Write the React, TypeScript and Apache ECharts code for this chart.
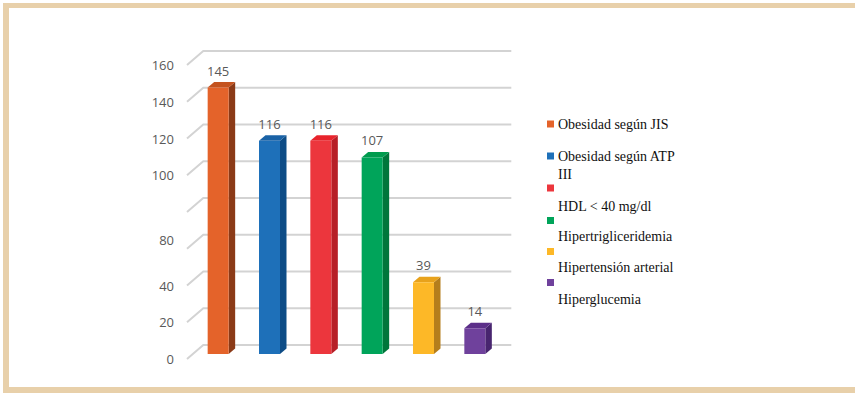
import React, { useEffect, useRef } from "react";
import * as echarts from "echarts";

// Categories and counts
const categories = [
  "Obesidad según JIS",
  "Obesidad según ATP III",
  "HDL < 40 mg/dl",
  "Hipertrigliceridemia",
  "Hipertensión arterial",
  "Hiperglucemia",
];
const counts = [145, 116, 116, 107, 39, 14];

// Face colours for the 3D columns
const frontColors = ["#E4632A", "#1E70B9", "#EC363D", "#00A45A", "#FDB827", "#6F419C"];
const sideColors = ["#8B3A17", "#0D4C86", "#B71F27", "#00763B", "#B57E1C", "#48256F"];
const topColors = ["#C4531F", "#1A62A6", "#E8242C", "#009B4E", "#E8A21B", "#5C2F89"];

// Value axis ticks and the labels printed beside them
const yTicks = [0, 20, 40, 60, 80, 100, 120, 140, 160];
const yTickLabels = ["0", "20", "40", "80", "", "100", "120", "140", "160"];

// Perspective offsets
const WALL_DX = 16.3;
const WALL_DY = 14;
const BAR_OFF_X = 5.5;
const BAR_OFF_Y = 5;
const BAR_HALF = 10.5;
const BAR_DX = 6.5;
const BAR_DY = 5.5;

const GREY_TEXT = "#595959";
const SANS = "'Open Sans', 'Liberation Sans', sans-serif";
const SERIF = "'Liberation Serif', 'Times New Roman', serif";
const FRAME = "#E8D0AA";

// Legend layout: marker centre y, text centre y (first line)
const legendMarkerY = [124, 156, 188, 220.5, 251.5, 282.5];
const legendTextY = [124, 156, 206, 236, 267, 299];

export default function App() {
  const ref = useRef<HTMLDivElement>(null);

  useEffect(() => {
    if (!ref.current) return;
    const chart = echarts.init(ref.current, null, { renderer: "svg" });

    const legendItems: any[] = [];
    categories.forEach((name, i) => {
      legendItems.push({
        type: "rect",
        shape: { x: 547, y: legendMarkerY[i] - 3.5, width: 7, height: 7 },
        style: { fill: frontColors[i] },
      });
      // the long ATP entry wraps its last word onto a second line
      const text = name.replace(" III", "\nIII");
      legendItems.push({
        type: "text",
        style: {
          text,
          x: 558,
          y: legendTextY[i] - 9,
          lineHeight: 18,
          verticalAlign: "top",
          align: "left",
          fill: "#111",
          fontSize: 14,
          fontFamily: SERIF,
        },
      });
    });

    const option: any = {
      animation: false,
      backgroundColor: "#fff",
      grid: { left: 187, right: 360, top: 65, bottom: 34 },
      xAxis: {
        type: "category",
        data: categories,
        show: false,
        boundaryGap: true,
      },
      yAxis: {
        type: "value",
        min: 0,
        max: 160,
        interval: 20,
        axisLine: { show: false },
        axisTick: { show: false },
        splitLine: { show: false },
        axisLabel: {
          margin: 13,
          color: GREY_TEXT,
          fontSize: 13,
          fontFamily: SANS,
          formatter: (v: number) => {
            const idx = yTicks.indexOf(v);
            const t = idx >= 0 ? yTickLabels[idx] : "";
            return v === 60 && t ? `{up|${t}}` : t;
          },
          rich: {
            up: {
              color: GREY_TEXT,
              fontSize: 13,
              fontFamily: SANS,
              padding: [0, 0, 18, 0],
            },
          },
        },
      },
      graphic: [
        { type: "rect", shape: { x: 3, y: 3, width: 852, height: 5 }, style: { fill: FRAME }, silent: true },
        { type: "rect", shape: { x: 3, y: 3, width: 6, height: 390 }, style: { fill: FRAME }, silent: true },
        { type: "rect", shape: { x: 3, y: 387, width: 852, height: 6 }, style: { fill: FRAME }, silent: true },
        ...legendItems,
      ],
      series: [
        {
          type: "custom",
          name: "walls",
          z: 1,
          silent: true,
          data: yTicks.map((v) => [0, v]),
          renderItem: (params: any, api: any) => {
            const y = api.coord([0, api.value(1)])[1];
            const cs = params.coordSys;
            return {
              type: "polyline",
              shape: {
                points: [
                  [cs.x, y],
                  [cs.x + WALL_DX, y - WALL_DY],
                  [cs.x + cs.width + WALL_DX, y - WALL_DY],
                ],
              },
              style: { stroke: "#D3D3D3", lineWidth: 2, fill: "none" },
            };
          },
        },
        {
          type: "custom",
          name: "columns",
          z: 2,
          data: counts.map((v, i) => [i, v]),
          renderItem: (params: any, api: any) => {
            const i = api.value(0);
            const v = api.value(1);
            const base = api.coord([i, 0]);
            const top = api.coord([i, v]);
            const cx = base[0] + BAR_OFF_X;
            const left = cx - BAR_HALF;
            const right = cx + BAR_HALF;
            const bottom = base[1] - BAR_OFF_Y;
            const ty = top[1] - BAR_OFF_Y;
            const idx = params.dataIndex;
            return {
              type: "group",
              children: [
                {
                  type: "polygon",
                  shape: {
                    points: [
                      [right, ty],
                      [right + BAR_DX, ty - BAR_DY],
                      [right + BAR_DX, bottom - BAR_DY],
                      [right, bottom],
                    ],
                  },
                  style: { fill: sideColors[idx] },
                },
                {
                  type: "polygon",
                  shape: {
                    points: [
                      [left, ty],
                      [left + BAR_DX, ty - BAR_DY],
                      [right + BAR_DX, ty - BAR_DY],
                      [right, ty],
                    ],
                  },
                  style: { fill: topColors[idx] },
                },
                {
                  type: "rect",
                  shape: { x: left, y: ty, width: right - left, height: bottom - ty },
                  style: { fill: frontColors[idx] },
                },
                {
                  type: "text",
                  style: {
                    text: String(v),
                    x: cx,
                    y: ty - 17,
                    align: "center",
                    verticalAlign: "middle",
                    fill: GREY_TEXT,
                    fontSize: 13,
                    fontFamily: SANS,
                  },
                },
              ],
            };
          },
        },
      ],
    };

    chart.setOption(option);
    return () => chart.dispose();
  }, []);

  return (
    <div
      ref={ref}
      style={{ position: "fixed", left: 0, top: 0, width: 855, height: 393, background: "#fff" }}
    />
  );
}
